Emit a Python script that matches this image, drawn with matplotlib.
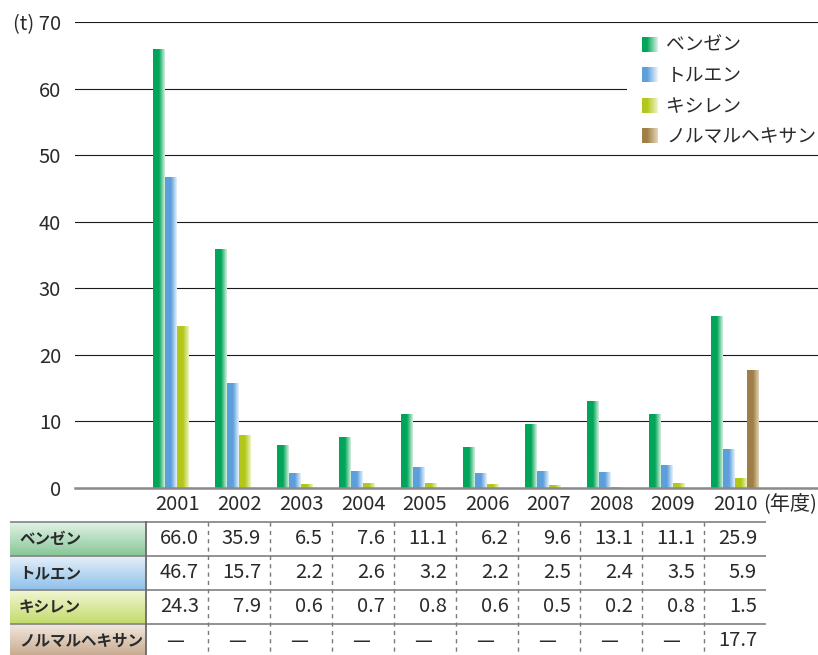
import numpy as np
import matplotlib
matplotlib.use("Agg")
import matplotlib.pyplot as plt
from matplotlib.patches import Rectangle, Patch
from matplotlib.legend_handler import HandlerBase
from matplotlib.colors import LinearSegmentedColormap, to_rgb

plt.rcParams['font.family'] = ['Noto Sans CJK JP', 'DejaVu Sans']

# ---------------- data ----------------
years = ["2001", "2002", "2003", "2004", "2005", "2006", "2007", "2008", "2009", "2010"]
series_names = ["ベンゼン", "トルエン", "キシレン", "ノルマルヘキサン"]
benzene = [66.0, 35.9, 6.5, 7.6, 11.1, 6.2, 9.6, 13.1, 11.1, 25.9]
toluene = [46.7, 15.7, 2.2, 2.6, 3.2, 2.2, 2.5, 2.4, 3.5, 5.9]
xylene = [24.3, 7.9, 0.6, 0.7, 0.8, 0.6, 0.5, 0.2, 0.8, 1.5]
hexane = [None, None, None, None, None, None, None, None, None, 17.7]
yticks = [0, 10, 20, 30, 40, 50, 60, 70]
ytick_labels = ["0", "10", "20", "30", "40", "50", "60", "(t) 70"]
year_unit = "(年度)"

series = [benzene, toluene, xylene, hexane]
bar_grad = [("#00a55a", "#d6efde"), ("#5c9fdc", "#e8f1fb"),
            ("#b3c71a", "#eff3c4"), ("#9f7e48", "#e2d2b4")]
cell_grad = [("#e2f2e6", "#86c796"), ("#e6eff9", "#8ec0ea"),
             ("#f2f7d4", "#c2da6c"), ("#f2e8de", "#c4a68a")]
TXT = "#2a2a2a"
FS = 14.5

W, H = 818, 655
fig = plt.figure(figsize=(W / 100, H / 100), dpi=100)

# main axes in pixel layout
ax_l, ax_r, ax_t, ax_b = 75, 818, 22, 488
ax = fig.add_axes([ax_l / W, 1 - ax_b / H, (ax_r - ax_l) / W, (ax_b - ax_t) / H])

# x mapping: group i centre at 177 + 62*i px
px0, step = 177, 62
ax.set_xlim((ax_l - px0) / step, (ax_r - px0) / step)
ax.set_ylim(0, 70)
bw = 11.8 / step
x = np.arange(len(years))

for k, s in enumerate(series):
    vals = np.array([np.nan if v is None else v for v in s], dtype=float)
    bars = ax.bar(x + (k - 1.5) * bw, np.nan_to_num(vals), width=bw, zorder=3,
                  facecolor="none", edgecolor="none")
    c0, c1 = bar_grad[k]
    cmap = LinearSegmentedColormap.from_list(f"g{k}", [c0, c0, c1])
    grad = np.linspace(0, 1, 64).reshape(1, -1)
    for b, v in zip(bars, vals):
        if np.isnan(v):
            continue
        bx, by, bwid, bh = b.get_x(), b.get_y(), b.get_width(), b.get_height()
        im = ax.imshow(grad, extent=[bx, bx + bwid, by, by + bh], aspect="auto",
                       cmap=cmap, zorder=3, interpolation="bilinear")
        im.set_clip_path(b)
ax.set_xlim((ax_l - px0) / step, (ax_r - px0) / step)
ax.set_ylim(0, 70)
ax.set_aspect("auto")

for sp in ["top", "right", "left"]:
    ax.spines[sp].set_visible(False)
ax.spines["bottom"].set_color("#8a8a8a")
ax.spines["bottom"].set_linewidth(1.8)
ax.spines["bottom"].set_zorder(4)
ax.set_yticks(yticks)
ax.set_yticklabels(ytick_labels)
ax.yaxis.grid(True, color="#1a1a1a", linewidth=0.8)
ax.set_axisbelow(True)
ax.set_xticks(x)
ax.set_xticklabels(years)
ax.tick_params(axis="both", length=0, labelsize=FS, colors=TXT)
ax.tick_params(axis="y", pad=10)
ax.tick_params(axis="x", pad=4)

# overlay axes in pixel coordinates for table, legend background, unit text
ov = fig.add_axes([0, 0, 1, 1], zorder=5)
ov.set_xlim(0, W)
ov.set_ylim(H, 0)
ov.axis("off")

# white box behind legend
ov.add_patch(Rectangle((627, 26), 191, 126, facecolor="white", edgecolor="none", zorder=1))
ov.text(790, 504, year_unit, ha="center", va="center", fontsize=FS, color=TXT)

# ---------- table ----------
t_left, hdr_right, t_right = 10, 146, 766
row_tops = [522, 556, 590, 624]
row_h = 34
for r in range(4):
    y0 = row_tops[r]
    c0, c1 = cell_grad[r]
    g = np.linspace(0, 1, 64).reshape(-1, 1)
    cm = LinearSegmentedColormap.from_list(f"c{r}", [c0, c1])
    ov.imshow(g, extent=[t_left, hdr_right, y0 + row_h, y0], aspect="auto",
              cmap=cm, zorder=2, interpolation="bilinear")
    ov.text(t_left + 9, y0 + row_h / 2, series_names[r], ha="left", va="center",
            fontsize=11.2, fontweight="bold", color=TXT, zorder=4)
    for i, v in enumerate(series[r]):
        cl = hdr_right + step * i
        if v is None:
            ov.text(cl + step / 2 - 2, y0 + row_h / 2, "—", ha="center", va="center",
                    fontsize=FS, color=TXT, zorder=4)
        else:
            ov.text(cl + step - 9, y0 + row_h / 2, f"{v:.1f}", ha="right", va="center",
                    fontsize=FS, color=TXT, zorder=4)
ov.set_xlim(0, W)
ov.set_ylim(H, 0)
ov.set_aspect("auto")

for y0 in row_tops + [row_tops[-1] + row_h]:
    if y0 < H:
        ov.plot([t_left, t_right], [y0, y0], color="#8a8a8a", lw=1.3, zorder=3,
                solid_capstyle="butt")
ov.plot([hdr_right, hdr_right], [row_tops[0], H], color="#6a6a6a", lw=1.3, zorder=3)
for i in range(1, len(years)):
    xx = hdr_right + step * i
    ov.plot([xx, xx], [row_tops[0], H], color="#7a7a7a", lw=1.0, zorder=3,
            linestyle=(0, (3, 3)))

# ---------- legend ----------
class GradHandler(HandlerBase):
    def __init__(self, c0, c1):
        super().__init__()
        self.c0, self.c1 = np.array(to_rgb(c0)), np.array(to_rgb(c1))

    def create_artists(self, legend, orig_handle, xdescent, ydescent, width, height,
                       fontsize, trans):
        n = 16
        arts = []
        for j in range(n):
            t = max(0.0, (j / (n - 1) - 0.3) / 0.7)
            col = self.c0 * (1 - t) + self.c1 * t
            arts.append(Rectangle((-xdescent + j * width / n, -ydescent), width / n * 1.05,
                                  height, facecolor=col, edgecolor="none", transform=trans))
        return arts

handles = [Patch(label=n) for n in series_names]
hmap = {h: GradHandler(*bar_grad[k]) for k, h in enumerate(handles)}
fig.legend(handles=handles, handler_map=hmap, loc="upper left",
           bbox_to_anchor=(642 / W, 1 - 35 / H), frameon=False, borderpad=0,
           borderaxespad=0, handlelength=0.85, handleheight=0.85, handletextpad=0.45,
           labelspacing=0.5, fontsize=13.5, labelcolor=TXT)

fig.savefig("out.png", dpi=100)
